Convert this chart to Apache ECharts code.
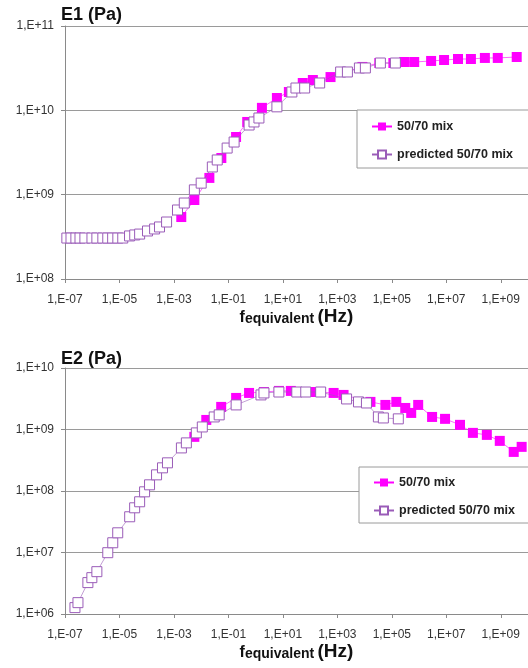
<!DOCTYPE html>
<html>
<head>
<meta charset="utf-8">
<script src="https://cdn.jsdelivr.net/npm/echarts@6/dist/echarts.min.js"></script>
<style>
html,body{margin:0;padding:0;background:#fff;}
#chart{width:528px;height:668px;}
</style>
</head>
<body>
<div id="chart"></div>
<script>
// ---- Data (frequency in Hz, modulus in Pa) ----
const seriesNames = ['50/70 mix', 'predicted 50/70 mix'];
const panelTitles = ['E1 (Pa)', 'E2 (Pa)'];
const xTickValues = [1e-7, 1e-5, 1e-3, 1e-1, 1e1, 1e3, 1e5, 1e7, 1e9];

// E1 measured (filled squares)
const e1MixFreq = [1.86e-3, 5.62e-3, 2.00e-2, 5.50e-2, 0.191, 0.490, 1.70, 6.03, 16.6, 53.7, 126, 562, 1820, 8320, 3.47e4, 1.14e5, 2.86e5, 6.64e5, 2.77e6, 8.28e6, 2.69e7, 8.02e7, 2.61e8, 7.76e8, 3.85e9];
const e1Mix     = [5.43e8, 8.65e8, 1.58e9, 2.72e9, 4.83e9, 7.28e9, 1.07e10, 1.40e10, 1.65e10, 2.11e10, 2.29e10, 2.48e10, 2.85e10, 3.27e10, 3.64e10, 3.64e10, 3.74e10, 3.74e10, 3.85e10, 3.95e10, 4.06e10, 4.06e10, 4.18e10, 4.18e10, 4.29e10];

// E1 predicted (open squares)
const e1PredFreq = [1.17e-7, 1.66e-7, 2.51e-7, 3.55e-7, 5.37e-7, 9.77e-7, 1.48e-6, 2.45e-6, 3.72e-6, 5.62e-6, 8.71e-6, 1.32e-5, 2.34e-5, 3.63e-5, 5.50e-5, 1.07e-4, 1.95e-4, 2.95e-4, 5.37e-4, 1.35e-3, 2.40e-3, 5.62e-3, 1.00e-2, 2.57e-2, 3.89e-2, 8.99e-2, 0.162, 0.575, 0.871, 1.32, 6.03, 21.4, 30.2, 63.1, 224, 1320, 2340, 6460, 1.07e4, 3.80e4, 1.35e5];
const e1Pred     = [3.06e8, 3.06e8, 3.06e8, 3.06e8, 3.06e8, 3.06e8, 3.06e8, 3.06e8, 3.06e8, 3.06e8, 3.06e8, 3.06e8, 3.24e8, 3.33e8, 3.41e8, 3.71e8, 3.92e8, 4.14e8, 4.74e8, 6.58e8, 7.96e8, 1.14e9, 1.37e9, 2.13e9, 2.58e9, 3.57e9, 4.21e9, 6.70e9, 7.28e9, 8.11e9, 1.10e10, 1.65e10, 1.84e10, 1.84e10, 2.11e10, 2.85e10, 2.85e10, 3.18e10, 3.18e10, 3.64e10, 3.64e10];

// E2 measured (filled squares)
const e2MixFreq = [5.61e-3, 1.54e-2, 5.43e-2, 0.192, 0.573, 2.02, 7.14, 19.6, 160, 729, 1690, 1.64e4, 5.80e4, 1.46e5, 3.11e5, 5.15e5, 9.29e5, 3.01e6, 9.00e6, 3.18e7, 9.48e7, 3.08e8, 9.19e8, 2.99e9, 5.85e9];
const e2Mix     = [7.59e8, 1.43e9, 2.33e9, 3.26e9, 3.93e9, 4.07e9, 4.24e9, 4.24e9, 4.07e9, 3.93e9, 3.65e9, 2.81e9, 2.51e9, 2.81e9, 2.24e9, 1.86e9, 2.51e9, 1.60e9, 1.49e9, 1.19e9, 8.81e8, 8.17e8, 6.53e8, 4.32e8, 5.22e8];

// E2 predicted (open squares)
const e2PredFreq = [2.32e-7, 2.99e-7, 6.92e-7, 9.68e-7, 1.48e-6, 3.72e-6, 5.67e-6, 8.63e-6, 2.37e-5, 3.61e-5, 5.50e-5, 8.36e-5, 1.27e-4, 2.30e-4, 3.80e-4, 5.79e-4, 1.88e-3, 2.86e-3, 6.64e-3, 1.10e-2, 3.01e-2, 4.59e-2, 0.192, 1.57, 2.02, 7.14, 32.5, 69.2, 244, 2180, 5970, 1.17e4, 3.21e4, 4.89e4, 1.73e5];
const e2Pred     = [1.27e6, 1.53e6, 3.24e6, 3.90e6, 4.88e6, 9.93e6, 1.44e7, 2.09e7, 3.81e7, 5.33e7, 6.68e7, 9.70e7, 1.26e8, 1.83e8, 2.38e8, 2.87e8, 5.02e8, 6.06e8, 8.81e8, 1.10e9, 1.60e9, 1.73e9, 2.51e9, 3.65e9, 3.93e9, 4.07e9, 4.07e9, 4.07e9, 4.07e9, 3.14e9, 2.81e9, 2.70e9, 1.60e9, 1.54e9, 1.49e9];

// ---- Chart ----
const zip = (a, b) => a.map((v, i) => [v, b[i]]);
const fmtExp = v => {
  const e = Math.round(Math.log10(v));
  return '1,E' + (e < 0 ? '-' : '+') + String(Math.abs(e)).padStart(2, '0');
};
const FONT = '"Liberation Sans", Arial, sans-serif';
const MAG = '#ff00ff';
const PUR = '#9a5cb8';

function xAxisDef(gridIndex) {
  return {
    type: 'log', logBase: 10, gridIndex, min: 1e-7, max: 1e10,
    axisLine: { show: true, lineStyle: { color: '#8a8a8a', width: 1 } },
    axisTick: { show: true, length: 4, inside: false, customValues: xTickValues, lineStyle: { color: '#8a8a8a' } },
    axisLabel: { customValues: xTickValues, formatter: fmtExp, fontFamily: FONT, fontSize: 12, color: '#333', margin: 15 },
    minorTick: { show: false },
    splitLine: { show: false },
    name: '{f|f}{e|equivalent} {h|(Hz)}',
    nameLocation: 'middle', nameGap: 26,
    nameTextStyle: {
      fontFamily: FONT, color: '#111',
      rich: {
        f: { fontFamily: FONT, fontSize: 16, fontWeight: 'bold', color: '#111', verticalAlign: 'bottom' },
        e: { fontFamily: FONT, fontSize: 14, fontWeight: 'bold', color: '#111', verticalAlign: 'bottom' },
        h: { fontFamily: FONT, fontSize: 19, fontWeight: 'bold', color: '#111', verticalAlign: 'bottom' }
      }
    }
  };
}
function yAxisDef(gridIndex, min, max) {
  return {
    type: 'log', logBase: 10, gridIndex, min, max, interval: 1,
    axisLine: { show: true, lineStyle: { color: '#8a8a8a', width: 1 } },
    axisTick: { show: true, length: 4, inside: false, lineStyle: { color: '#8a8a8a' } },
    axisLabel: { formatter: fmtExp, fontFamily: FONT, fontSize: 12, color: '#333', margin: 11 },
    minorTick: { show: false },
    splitLine: { show: true, lineStyle: { color: '#9a9a9a', width: 1 } }
  };
}
function mixSeries(xi, data) {
  return {
    name: seriesNames[0], type: 'line', xAxisIndex: xi, yAxisIndex: xi, data,
    symbol: 'rect', symbolSize: 10, showAllSymbol: true,
    itemStyle: { color: MAG, borderColor: MAG, borderWidth: 0 },
    lineStyle: { color: MAG, width: 0.6 }, z: 2
  };
}
function predSeries(xi, data) {
  return {
    name: seriesNames[1], type: 'line', xAxisIndex: xi, yAxisIndex: xi, data,
    symbol: 'rect', symbolSize: 10, showAllSymbol: true,
    itemStyle: { color: '#ffffff', borderColor: PUR, borderWidth: 1 },
    lineStyle: { color: PUR, width: 0.6 }, z: 3
  };
}
function legendDef(left, top, padding) {
  return {
    data: seriesNames, orient: 'vertical', left, top,
    padding, itemGap: 15, itemWidth: 20, itemHeight: 10,
    backgroundColor: '#fff', borderColor: '#9a9a9a', borderWidth: 1,
    selectedMode: false,
    textStyle: { fontFamily: FONT, fontSize: 12.5, fontWeight: 'bold', color: '#222' }
  };
}

const chart = echarts.init(document.getElementById('chart'), null, { renderer: 'canvas' });
chart.setOption({
  animation: false,
  backgroundColor: '#fff',
  title: [
    { text: panelTitles[0], left: 61, top: 6, padding: 0, textStyle: { fontFamily: FONT, fontSize: 18, fontWeight: 'bold', color: '#111' } },
    { text: panelTitles[1], left: 61, top: 350, padding: 0, textStyle: { fontFamily: FONT, fontSize: 18, fontWeight: 'bold', color: '#111' } }
  ],
  grid: [
    { left: 65, top: 26, width: 465, height: 253, containLabel: false },
    { left: 65, top: 368, width: 465, height: 246, containLabel: false }
  ],
  xAxis: [xAxisDef(0), xAxisDef(1)],
  yAxis: [yAxisDef(0, 1e8, 1e11), yAxisDef(1, 1e6, 1e10)],
  legend: [
    legendDef(357, 110, [10, 30, 7, 14]),
    legendDef(359, 467, [9, 30, 6, 14])
  ],
  series: [
    mixSeries(0, zip(e1MixFreq, e1Mix)),
    predSeries(0, zip(e1PredFreq, e1Pred)),
    mixSeries(1, zip(e2MixFreq, e2Mix)),
    predSeries(1, zip(e2PredFreq, e2Pred))
  ]
});
</script>
</body>
</html>
